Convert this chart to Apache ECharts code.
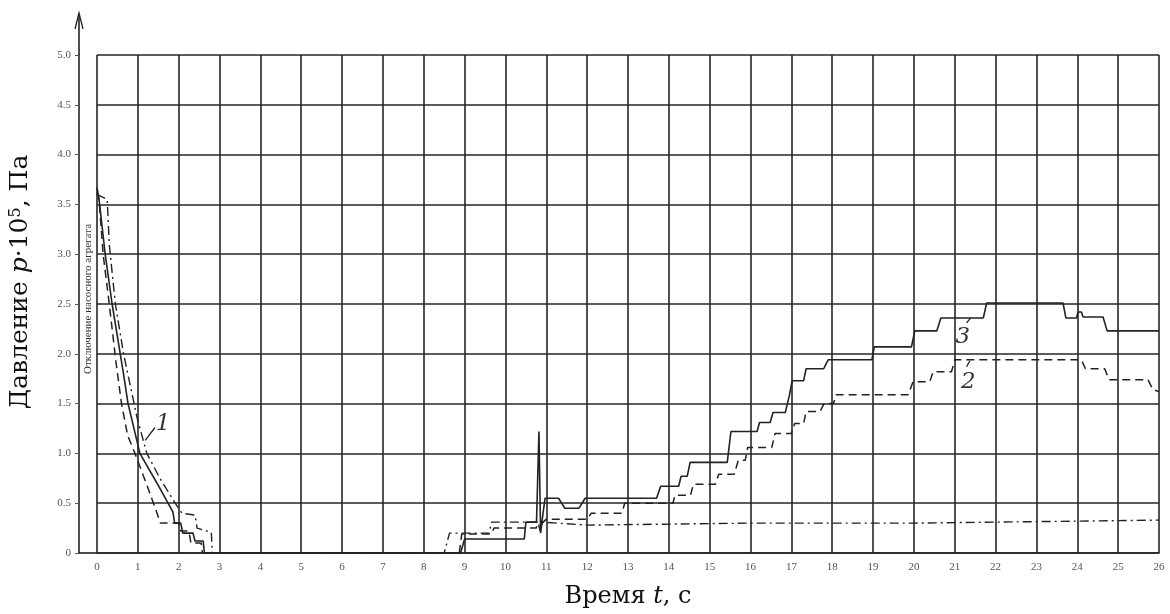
<!DOCTYPE html>
<html><head><meta charset="utf-8">
<script src="https://cdn.jsdelivr.net/npm/echarts@6/dist/echarts.min.js"></script>
<style>html,body{margin:0;padding:0;background:#fff}#c{width:1170px;height:614px}</style>
</head><body><div id="c"></div>
<script>
// ---- data ----
// solid line (curve 3)
const solidT = [0,0.05,0.2,0.37,0.64,0.76,1.05,1.54,1.86,1.9,2.05,2.1,2.35,2.4,2.6,2.63,
  8.9,9.0,10.46,10.5,10.76,10.82,10.86,10.92,10.97,11.3,11.45,11.8,11.95,13.7,13.8,14.24,14.3,14.45,14.52,15.43,15.52,16.16,16.22,16.48,16.55,16.85,16.95,17.02,17.3,17.36,17.79,17.9,18.97,19.03,19.94,20.02,20.56,20.66,21.7,21.78,23.65,23.72,23.98,24.02,24.1,24.14,24.63,24.73,26];
const solidV = [3.67,3.55,3.0,2.5,1.82,1.5,1.0,0.65,0.41,0.3,0.3,0.2,0.2,0.12,0.12,0,
  0,0.14,0.14,0.31,0.31,1.22,0.2,0.4,0.55,0.55,0.45,0.45,0.55,0.55,0.67,0.67,0.77,0.77,0.91,0.91,1.22,1.22,1.31,1.31,1.41,1.41,1.58,1.73,1.73,1.85,1.85,1.94,1.94,2.07,2.07,2.23,2.23,2.36,2.36,2.51,2.51,2.36,2.36,2.42,2.42,2.37,2.37,2.23,2.23];
// dashed line (curve 2)
const dashT = [0,0.05,0.15,0.3,0.47,0.6,0.75,0.93,1.25,1.47,1.55,2.0,2.05,2.25,2.3,2.55,2.58,
  8.87,8.93,9.65,9.72,10.75,10.8,10.85,10.9,11.0,12.0,12.1,12.85,12.92,14.1,14.15,14.53,14.6,15.14,15.22,15.6,15.7,15.87,15.93,16.52,16.6,17.0,17.08,17.3,17.36,17.7,17.8,18.03,18.1,19.86,19.98,20.39,20.47,20.92,21.0,24.1,24.2,24.67,24.78,25.73,25.85,26];
const dashV = [3.62,3.55,3.0,2.5,1.9,1.5,1.18,1.0,0.65,0.4,0.3,0.3,0.22,0.22,0.1,0.1,0,
  0,0.19,0.19,0.25,0.25,0.3,0.22,0.3,0.34,0.34,0.4,0.4,0.5,0.5,0.58,0.58,0.69,0.69,0.79,0.79,0.93,0.93,1.06,1.06,1.2,1.2,1.3,1.3,1.42,1.42,1.5,1.5,1.59,1.59,1.72,1.72,1.82,1.82,1.94,1.94,1.85,1.85,1.74,1.74,1.64,1.62];
// dash-dot line
const ddT = [0,0.25,0.3,0.45,0.65,0.98,1.22,1.54,1.9,2.08,2.4,2.45,2.7,2.75,2.8,2.82,
  8.5,8.63,9.6,9.66,10.9,12,16,20,26];
const ddV = [3.6,3.55,3.1,2.5,2.0,1.36,1.0,0.75,0.51,0.4,0.38,0.25,0.22,0.2,0.2,0,
  0,0.2,0.2,0.31,0.31,0.28,0.3,0.3,0.33];
// curve labels and leaders
const curveLabels = [[1.62,1.29,'1'],[21.2,2.17,'3'],[21.33,1.72,'2']];
const leaders = [[[1.18,1.13],[1.42,1.26]],[[21.29,2.31],[21.39,2.36]],[[21.29,1.87],[21.37,1.93]]];
// ticks
const yTickLabels = ['0','0.5','1.0','1.5','2.0','2.5','3.0','3.5','4.0','4.5','5.0'];
const noteText = 'Отключение насосного агрегата';

const zip = (t,v)=>t.map((x,i)=>[x,v[i]]);
const serif = 'Liberation Serif, DejaVu Serif, serif';
const wide = 'DejaVu Serif, serif';
const ink = '#222';

const chart = echarts.init(document.getElementById('c'));
chart.setOption({
  animation:false,
  backgroundColor:'#fff',
  grid:{left:97,right:11,top:55,bottom:57},
  xAxis:{type:'value',min:0,max:26,interval:1,
    axisLine:{show:true,onZero:false,lineStyle:{color:ink,width:1.6}},
    axisTick:{show:false},
    axisLabel:{fontFamily:serif,fontSize:11,color:'#555',margin:9},
    splitLine:{show:true,lineStyle:{color:'#262626',width:1.6}},
    name:'Время {i|t}, с',nameLocation:'middle',nameGap:32,
    nameTextStyle:{fontFamily:wide,fontSize:24,color:'#111',
      rich:{i:{fontFamily:wide,fontSize:24,fontStyle:'italic',color:'#111'}}}
  },
  yAxis:{type:'value',min:0,max:5,interval:0.5,offset:18,
    axisLine:{show:true,onZero:false,lineStyle:{color:ink,width:1.6}},
    axisTick:{show:true,length:4,lineStyle:{color:'#555'}},
    axisLabel:{fontFamily:serif,fontSize:11,color:'#555',margin:8,
      formatter:(v)=>yTickLabels[Math.round(v*2)]},
    splitLine:{show:true,lineStyle:{color:'#262626',width:1.6}},
    name:'Давление {i|p}·10{s|5}, Па',nameLocation:'middle',nameGap:46,nameRotate:90,
    nameTextStyle:{fontFamily:wide,fontSize:25,color:'#111',padding:[0,0,0,44],
      rich:{i:{fontFamily:wide,fontSize:25,fontStyle:'italic',color:'#111'},
            s:{fontFamily:wide,fontSize:16,color:'#111',verticalAlign:'top',lineHeight:25}}}
  },
  series:[
    {type:'line',data:zip(solidT,solidV),symbol:'none',lineStyle:{color:ink,width:1.6}},
    {type:'line',data:zip(dashT,dashV),symbol:'none',lineStyle:{color:ink,width:1.5,type:[8,5]}},
    {type:'line',data:zip(ddT,ddV),symbol:'none',lineStyle:{color:ink,width:1.4,type:[9,4,2,4]}},
    {type:'scatter',data:curveLabels,symbolSize:1,itemStyle:{color:'transparent'},
      label:{show:true,position:'inside',formatter:(p)=>p.value[2],
        fontFamily:wide,fontSize:23,fontStyle:'italic',color:'#000'},
      markLine:{silent:true,symbol:'none',label:{show:false},
        lineStyle:{color:ink,width:1.3,type:'solid'},
        data:leaders.map(l=>[{coord:l[0]},{coord:l[1]}])}
    }
  ]
});

// axis decorations: extend the y axis upward with an arrow, bottom axis to the y axis, rotated note
const pTop = chart.convertToPixel({gridIndex:0},[0,5]);
const pBot = chart.convertToPixel({gridIndex:0},[0,0]);
const pNote = chart.convertToPixel({gridIndex:0},[0,2.55]);
const ax = pTop[0]-18;
chart.setOption({graphic:[
  {type:'line',shape:{x1:ax,y1:pTop[1],x2:ax,y2:pTop[1]-40},style:{stroke:ink,lineWidth:1.6}},
  {type:'polyline',shape:{points:[[ax-4,pTop[1]-26],[ax,pTop[1]-42],[ax+4,pTop[1]-26]]},style:{stroke:ink,lineWidth:1.3,fill:null}},
  {type:'line',shape:{x1:ax,y1:pBot[1],x2:pBot[0],y2:pBot[1]},style:{stroke:ink,lineWidth:1.6}},
  {type:'text',x:pNote[0]-9,y:pNote[1],rotation:Math.PI/2,
    style:{text:noteText,fontFamily:serif,fontSize:11,fill:'#333',align:'center',verticalAlign:'middle'}}
]});
</script></body></html>
